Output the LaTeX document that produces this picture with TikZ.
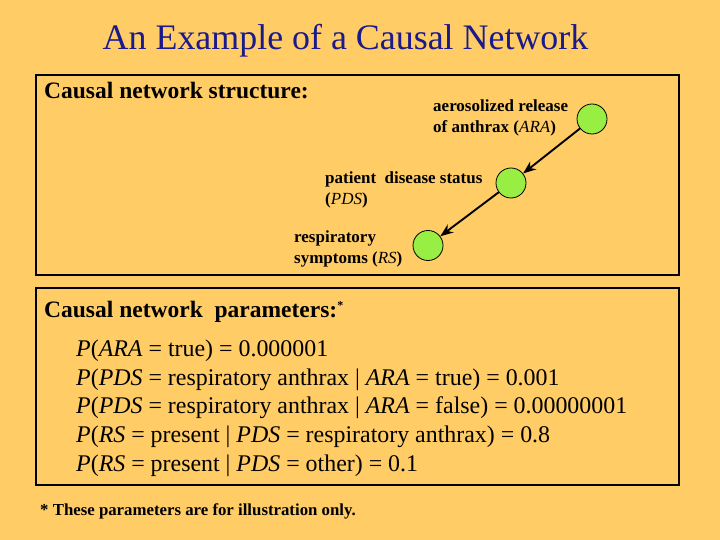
\documentclass[tikz,border=0pt]{standalone}
\usepackage{fontspec}
\setmainfont{Liberation Serif}
\usetikzlibrary{arrows.meta}
\definecolor{bg}{HTML}{FFCC66}
\definecolor{titleblue}{HTML}{1A1A8C}
\definecolor{nodegreen}{HTML}{99EE44}
\tikzset{
  panel/.style={draw=black, line width=1.8pt},
  causenode/.style={circle, draw=black, line width=0.8pt, fill=nodegreen, minimum size=30pt, inner sep=0pt},
  lbl/.style={anchor=north west, inner sep=0pt, font=\bfseries\fontsize{17}{21}\selectfont, align=left},
  head/.style={anchor=base west, inner sep=0pt, font=\bfseries\fontsize{23.5}{27}\selectfont},
  param/.style={anchor=base west, inner sep=0pt, font=\fontsize{23.9}{28}\selectfont},
  link/.style={-{Stealth[length=13pt,width=10pt]}, line width=1.9pt}
}
\begin{document}
\begin{tikzpicture}[x=1pt,y=-1pt]
\fill[bg] (0,0) rectangle (720,540);
\useasboundingbox (0,0) rectangle (720,540);
\node[anchor=base, inner sep=0pt, text=titleblue, font=\fontsize{35.9}{40}\selectfont] (title) at (345.5,50) {An Example of a Causal Network};
\draw[panel] (36,75) rectangle (679,275);
\draw[panel] (36,288) rectangle (679,485);
\node[head] (h1) at (44,99) {Causal network structure:};
\node[causenode] (ara) at (592,119) {};
\node[causenode] (pds) at (511,183) {};
\node[causenode] (rs) at (428,245.5) {};
\draw[link] (ara) -- (pds);
\draw[link] (pds) -- (rs);
\node[lbl] (aral) at (433,99.5) {aerosolized release\\of anthrax (\textit{\mdseries ARA})};
\node[lbl] (pdsl) at (325,171.5) {patient\ \ disease status\\(\textit{\mdseries PDS})};
\node[lbl] (rsl) at (294,230.5) {respiratory\\symptoms (\textit{\mdseries RS})};
\node[head] (h2) at (44,317) {Causal network\ \ parameters:\raisebox{8pt}{\fontsize{12}{12}\selectfont *}};
\node[param] (p1) at (76,356.5) {\textit{P}(\textit{ARA} = true) = 0.000001};
\node[param] (p2) at (76,385.2) {\textit{P}(\textit{PDS} = respiratory anthrax | \textit{ARA} = true) = 0.001};
\node[param] (p3) at (76,413.9) {\textit{P}(\textit{PDS} = respiratory anthrax | \textit{ARA} = false) = 0.00000001};
\node[param] (p4) at (76,442.6) {\textit{P}(\textit{RS} = present | \textit{PDS} = respiratory anthrax) = 0.8};
\node[param] (p5) at (76,471.3) {\textit{P}(\textit{RS} = present | \textit{PDS} = other) = 0.1};
\node[anchor=base west, inner sep=0pt, font=\bfseries\fontsize{16.8}{19}\selectfont] (foot) at (40,515) {* These parameters are for illustration only.};
\end{tikzpicture}
\end{document}
